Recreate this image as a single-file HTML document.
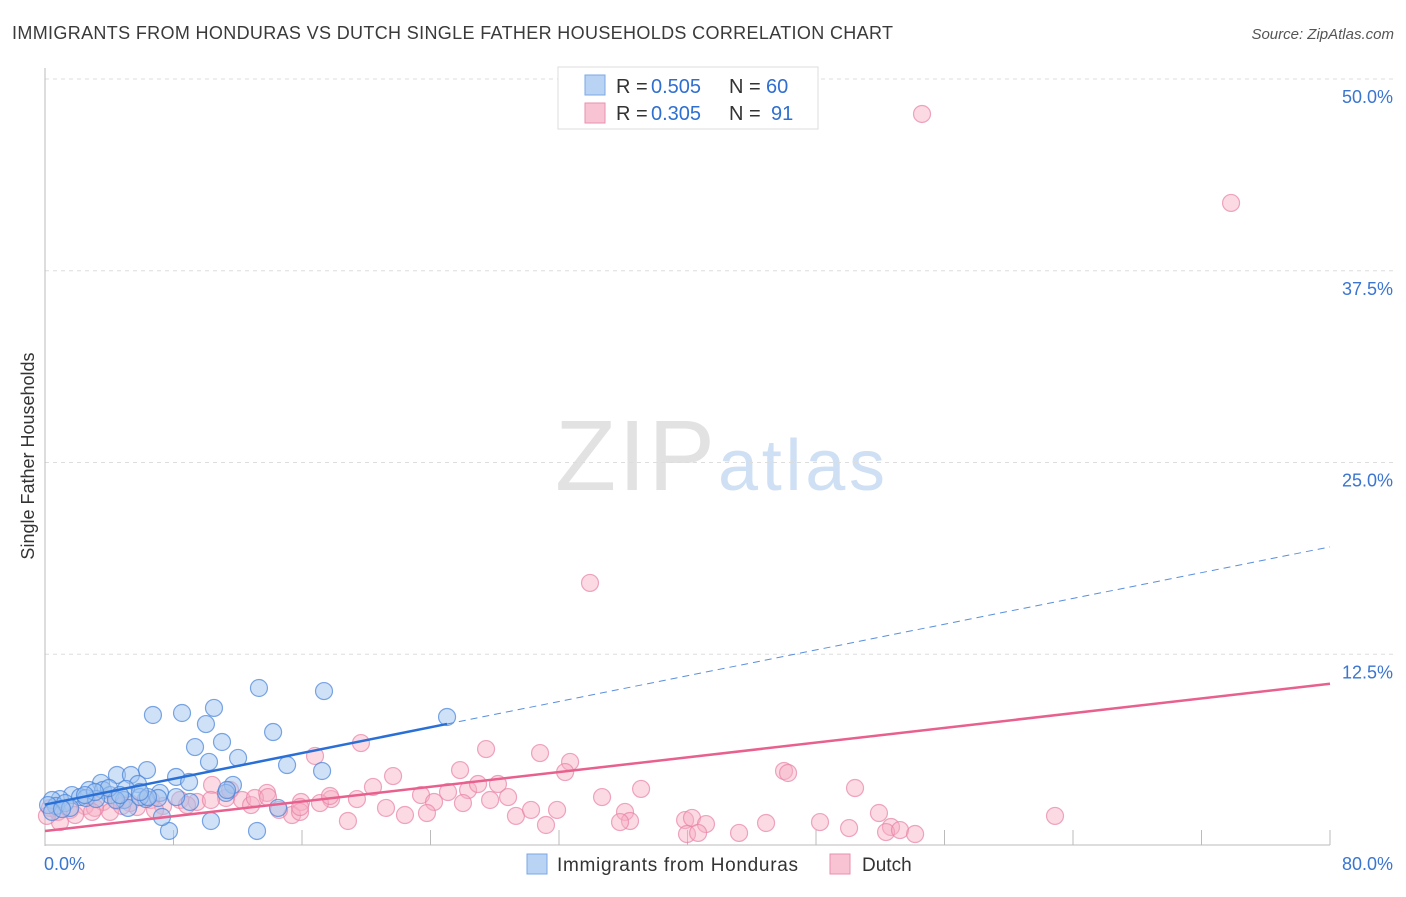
<!DOCTYPE html>
<html><head><meta charset="utf-8"><style>
body{margin:0;background:#fff;font-family:"Liberation Sans",sans-serif;}
svg text{font-family:"Liberation Sans",sans-serif;}
</style></head><body>
<svg id="chart" width="1406" height="892">
<text x="12" y="39" font-size="18" fill="#3a3a3a" textLength="881">IMMIGRANTS FROM HONDURAS VS DUTCH SINGLE FATHER HOUSEHOLDS CORRELATION CHART</text>
<text x="1394" y="39" font-size="15" fill="#555" text-anchor="end" font-style="italic">Source: ZipAtlas.com</text>
<text x="715" y="490" font-size="100" fill="#e2e2e2" text-anchor="end" font-family="Liberation Serif" textLength="160">ZIP</text>
<text x="718" y="490" font-size="72" fill="#cfe0f4" textLength="167">atlas</text>
<g id="grid"></g>
<g id="axes"></g>
<g id="marks"></g>
<text transform="translate(34,456) rotate(-90)" font-size="18" fill="#333" text-anchor="middle">Single Father Households</text>
<g>
<rect x="558" y="67" width="260" height="62" fill="#fff" stroke="#ddd"/>
<rect x="585" y="75" width="20" height="20" fill="#b9d3f5" stroke="#7aa7e3"/>
<text x="616" y="93" font-size="20" fill="#333">R =</text>
<text x="651" y="93" font-size="20" fill="#2f6fd0">0.505</text>
<text x="729" y="93" font-size="20" fill="#333">N =</text>
<text x="766" y="93" font-size="20" fill="#2f6fd0">60</text>
<rect x="585" y="103" width="20" height="20" fill="#f8c4d4" stroke="#e98fae"/>
<text x="616" y="120" font-size="20" fill="#333">R =</text>
<text x="651" y="120" font-size="20" fill="#2f6fd0">0.305</text>
<text x="729" y="120" font-size="20" fill="#333">N =</text>
<text x="771" y="120" font-size="20" fill="#2f6fd0">91</text>
</g>
<g>
<rect x="527" y="854" width="20" height="20" fill="#b9d3f5" stroke="#7aa7e3"/>
<text x="557" y="871" font-size="19" fill="#333" textLength="241">Immigrants from Honduras</text>
<rect x="830" y="854" width="20" height="20" fill="#f8c4d4" stroke="#e98fae"/>
<text x="862" y="871" font-size="19" fill="#333">Dutch</text>
</g>
</svg>
<script>
const blueX=[6.72,8.53,10.52,13.32,17.37,9.34,11.02,10.02,14.20,25.03,10.21,12.02,15.07,17.25,6.35,4.48,5.35,8.16,8.97,11.70,3.49,5.79,2.74,3.61,5.04,1.68,0.93,0.44,0.68,2.18,4.05,7.16,4.92,6.29,7.04,9.03,11.27,7.72,10.33,13.20,7.28,5.17,14.51,1.25,0.19,2.55,3.18,4.42,5.91,8.16,1.56,0.44,1.06,11.33,6.41,3.98,3.11,2.49,4.67,5.91];
const blueY=[8.54,8.67,9.00,10.30,10.10,6.45,6.78,7.95,7.43,8.41,5.48,5.74,5.28,4.89,4.95,4.63,4.63,4.50,4.17,3.98,4.11,4.04,3.65,3.65,3.72,3.32,3.06,3.00,2.61,3.19,3.32,3.46,3.00,3.06,3.13,2.87,3.46,0.98,1.63,0.98,1.89,2.48,2.48,2.80,2.67,3.13,3.06,3.00,3.19,3.19,2.48,2.22,2.41,3.65,3.19,3.78,3.52,3.32,3.32,3.52];
const pinkX=[54.60,73.84,33.93,19.67,27.46,30.82,32.69,16.81,25.84,32.38,46.01,46.26,21.67,28.20,37.11,50.43,20.42,23.41,25.09,26.34,28.83,34.68,24.22,19.42,17.81,15.94,13.82,12.27,10.40,11.27,9.46,8.41,7.35,6.60,5.73,4.48,3.61,2.49,1.56,0.81,0.31,21.23,22.41,23.78,29.32,30.26,31.88,36.11,36.42,35.80,39.85,40.28,41.15,44.89,48.25,51.92,62.88,52.67,50.06,18.86,15.38,14.57,12.83,15.88,31.19,43.21,39.97,40.66,52.36,53.23,54.17,17.12,17.74,11.52,10.33,8.84,4.05,0.93,0.12,1.87,3.11,5.29,6.85,13.07,13.88,26.02,27.71,26.96,15.88,4.79,2.93];
const pinkY=[47.72,41.92,17.15,6.71,6.32,6.06,5.48,5.87,4.95,4.82,4.89,4.76,4.56,4.04,3.72,3.78,3.85,3.32,3.52,3.65,3.19,3.19,2.87,3.06,3.06,2.87,3.46,3.00,3.98,3.13,2.87,3.00,2.61,3.00,2.54,2.93,2.87,2.61,2.35,2.22,2.48,2.48,2.02,2.15,1.96,2.35,2.35,2.22,1.63,1.56,1.69,1.83,1.43,1.50,1.56,2.15,1.96,1.24,1.17,1.63,2.02,2.35,2.67,2.22,1.37,0.85,0.78,0.85,0.91,1.04,0.78,2.80,3.26,3.65,3.00,2.67,2.22,1.56,1.96,2.02,2.48,2.80,2.35,3.13,3.19,2.80,3.00,4.04,2.54,2.61,2.22];
const yTicks=[12.5,25.0,37.5,50.0];
const yTickLabels=["12.5%","25.0%","37.5%","50.0%"];
const xTicks=[0,8,16,24,32,40,48,56,64,72,80];
const blueTrend=[2.7,0.21];
const pinkTrend=[0.98,0.12];
const blueSolidEnd=25.03;

const X0=45,X1=1330,Y0=846,Y1=79;
const xs=v=>X0+v/80*(X1-X0);
const ys=v=>Y0-v/50*(Y0-Y1);
const NS='http://www.w3.org/2000/svg';
function mk(tag,attrs,parent){const e=document.createElementNS(NS,tag);for(const k in attrs)e.setAttribute(k,attrs[k]);parent.appendChild(e);return e;}
const grid=document.getElementById('grid'),axes=document.getElementById('axes'),marks=document.getElementById('marks');
yTicks.forEach((t,i)=>{
  const l=mk('line',{x1:X0,x2:1394,y1:ys(t),y2:ys(t),stroke:'#ddd','stroke-dasharray':'4,4'},grid);
  
  
  const tx=mk('text',{x:1393,y:ys(t)+24,'font-size':18,fill:'#3a75d0','text-anchor':'end'},grid);
  tx.textContent=yTickLabels[i];
  
  
});
const ax=mk('line',{x1:X0,x2:X1,y1:Y0-1,y2:Y0-1,stroke:'#bbb'},axes);


const ay=mk('line',{x1:X0,x2:X0,y1:68,y2:Y0,stroke:'#bbb'},axes);


xTicks.forEach(t=>{
  const l=mk('line',{x1:xs(t),x2:xs(t),y1:Y0-1,y2:Y0-16,stroke:'#bbb'},axes);
  
  
});
const xl0=mk('text',{x:44,y:870,'font-size':18,fill:'#3a75d0'},axes);xl0.textContent='0.0%';


const xl1=mk('text',{x:1393,y:870,'font-size':18,fill:'#3a75d0','text-anchor':'end'},axes);xl1.textContent='80.0%';



pinkX.forEach((x,i)=>{
  const c=mk('circle',{cx:xs(x),cy:ys(pinkY[i]),r:8.5,fill:'rgba(246,172,196,0.45)',stroke:'rgba(232,130,165,0.7)','stroke-width':1.2},marks);
  
  
});
blueX.forEach((x,i)=>{
  const c=mk('circle',{cx:xs(x),cy:ys(blueY[i]),r:8.5,fill:'rgba(160,196,240,0.5)',stroke:'rgba(70,130,215,0.7)','stroke-width':1.2},marks);
  
  
});
const bl=v=>blueTrend[0]+blueTrend[1]*v, pl=v=>pinkTrend[0]+pinkTrend[1]*v;
const t1=mk('line',{x1:xs(0),y1:ys(bl(0)),x2:xs(blueSolidEnd),y2:ys(bl(blueSolidEnd)),stroke:'#2a6fd6','stroke-width':2.5},marks);


const t2=mk('line',{x1:xs(blueSolidEnd),y1:ys(bl(blueSolidEnd)),x2:xs(80),y2:ys(bl(80)),stroke:'#5a8fdc','stroke-width':1,'stroke-dasharray':'7,5'},marks);


const t3=mk('line',{x1:xs(0),y1:ys(pl(0)),x2:xs(80),y2:ys(pl(80)),stroke:'#e8608e','stroke-width':2.5},marks);


</script>
</body></html>
